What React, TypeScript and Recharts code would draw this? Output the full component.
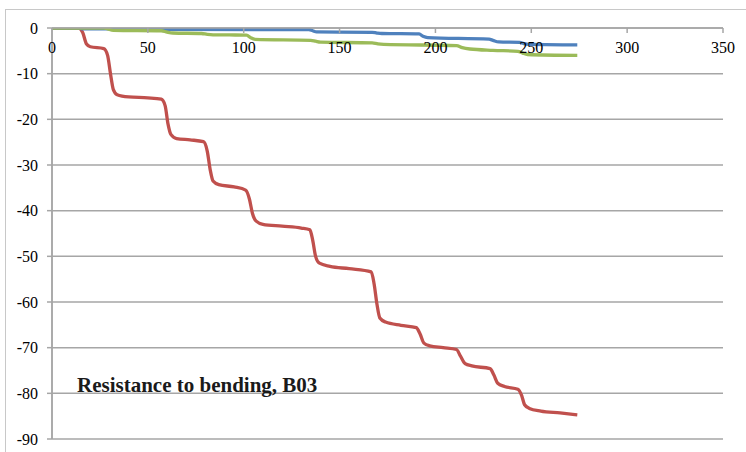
import { LineChart, Line, XAxis, YAxis, CartesianGrid, ReferenceLine } from "recharts";

// B03 readings
const redX = [0, 14, 16, 18, 20, 27, 29, 30.5, 32, 34, 40, 50, 57, 59, 60.5, 62, 65, 72, 79, 81, 82.5, 84, 87, 95, 101, 103, 104.5, 106.5, 110, 120, 130, 134.5, 136, 137.5, 139.5, 145, 155, 166.5, 168, 169.5, 171, 174, 182, 190, 192, 194, 197, 204, 211, 213, 215.5, 219, 228.5, 230.5, 232.5, 236, 243, 245, 246.5, 249, 255, 265, 274];
const redY = [0, 0, -1, -3.5, -4.1, -4.5, -6, -10, -13.5, -14.6, -15.1, -15.3, -15.6, -17, -21, -23.3, -24.2, -24.5, -24.9, -27, -31, -33.5, -34.3, -34.8, -35.5, -37.5, -40.5, -42.3, -43, -43.4, -43.8, -44.2, -46.5, -50, -51.5, -52.2, -52.7, -53.4, -56, -60.5, -63.5, -64.4, -65.1, -65.6, -67, -69, -69.6, -70, -70.4, -71.8, -73.5, -74, -74.6, -76, -77.8, -78.5, -79.1, -80.5, -82.5, -83.3, -83.9, -84.3, -84.7];

const blueX = [0, 14, 16, 55, 58, 134, 136, 138, 167, 169.5, 172, 191.5, 193.5, 196, 228, 230, 233, 244, 246, 248.5, 274];
const blueY = [0, 0, -0.2, -0.2, -0.3, -0.35, -0.6, -0.85, -0.95, -1.1, -1.2, -1.3, -1.8, -2.1, -2.45, -2.7, -3.05, -3.15, -3.4, -3.6, -3.7];

const greenX = [0, 27, 29, 32, 57, 60, 63, 78, 81, 84, 101.5, 103.5, 106, 135, 137.5, 140, 167, 170, 173, 211, 214, 218, 230, 243, 245.5, 248, 274];
const greenY = [0, 0, -0.2, -0.5, -0.6, -0.9, -1.1, -1.2, -1.4, -1.5, -1.55, -2.1, -2.5, -2.7, -2.9, -3.1, -3.25, -3.5, -3.6, -3.85, -4.3, -4.6, -4.9, -5.1, -5.5, -5.8, -6.0];

const xTicks = [0, 50, 100, 150, 200, 250, 300, 350];
const yTicks = [0, -10, -20, -30, -40, -50, -60, -70, -80, -90];

const title = "Resistance to bending, B03";

const zip = (xs: number[], ys: number[]) => xs.map((x, i) => ({ x, y: ys[i] }));

const FONT = "'Liberation Serif', 'Times New Roman', serif";
const AXIS_GRAY = "#a6a6a6";
const PLOT_TOP = 28;

// x ticks hang below the y = 0 line, excel style
function XTick(props: any) {
    const { x, payload } = props;
    return (
        <g>
            {payload.value !== 0 && <line x1={x} x2={x} y1={PLOT_TOP} y2={PLOT_TOP + 5} stroke={AXIS_GRAY} strokeWidth={1.5} />}
            <text x={x} y={PLOT_TOP + 25} textAnchor="middle" fontFamily={FONT} fontSize={16} fill="#000">
                {payload.value}
            </text>
        </g>
    );
}

function YTick(props: any) {
    const { y, payload } = props;
    return (
        <text x={38} y={y + 5.5} textAnchor="end" fontFamily={FONT} fontSize={16} fill="#000">
            {payload.value}
        </text>
    );
}

export default function App() {
    return (
        <div style={{ position: "absolute", left: 0, top: 0, width: 746, height: 452, overflow: "hidden", background: "#fff", fontFamily: FONT }}>
            <style>{`.b03 text { font-family: 'Liberation Serif', serif; }`}</style>
            <div style={{ position: "absolute", left: 5, top: 9, width: 800, height: 500, border: "1px solid #c8c8c8" }} />
            <div className="b03" style={{ position: "absolute", left: 0, top: 0 }}>
                <LineChart width={746} height={452} margin={{ top: PLOT_TOP - 1, right: 23, bottom: 13, left: 0 }}>
                    <CartesianGrid horizontal vertical={false} stroke={AXIS_GRAY} strokeWidth={1.5} />
                    <XAxis
                        type="number"
                        dataKey="x"
                        domain={[0, 350]}
                        ticks={xTicks}
                        orientation="top"
                        height={1}
                        tickLine={false}
                        axisLine={{ stroke: AXIS_GRAY, strokeWidth: 1.5 }}
                        tick={XTick}
                        interval={0}
                        allowDataOverflow
                    />
                    <YAxis
                        type="number"
                        dataKey="y"
                        domain={[-90, 0]}
                        ticks={yTicks}
                        width={52}
                        tickSize={5}
                        axisLine={{ stroke: AXIS_GRAY, strokeWidth: 1.5 }}
                        tickLine={{ stroke: AXIS_GRAY, strokeWidth: 1.5 }}
                        tick={YTick}
                        interval={0}
                        allowDataOverflow
                    />
                    <ReferenceLine x={0} stroke={AXIS_GRAY} strokeWidth={1.5} />
                    <Line data={zip(redX, redY)} dataKey="y" type="monotone" stroke="#c0504d" strokeWidth={3.3} dot={false} isAnimationActive={false} />
                    <Line data={zip(blueX, blueY)} dataKey="y" type="monotone" stroke="#4f81bd" strokeWidth={3.3} dot={false} isAnimationActive={false} />
                    <Line data={zip(greenX, greenY)} dataKey="y" type="monotone" stroke="#9bbb59" strokeWidth={3.3} dot={false} isAnimationActive={false} />
                </LineChart>
            </div>
            <div style={{ position: "absolute", left: 77, top: 375, fontFamily: FONT, fontWeight: "bold", fontSize: 21, lineHeight: "21px", color: "#1a1a1a", whiteSpace: "nowrap" }}>
                {title}
            </div>
        </div>
    );
}
